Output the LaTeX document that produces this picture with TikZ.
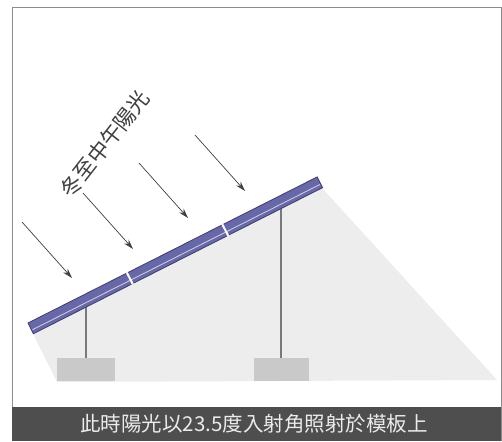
\documentclass[tikz,border=0pt]{standalone}
\usepackage{fontspec}
\newfontfamily\cjk{Noto Sans CJK TC}
\usetikzlibrary{arrows.meta}
\definecolor{framegray}{HTML}{8C8C8C}
\definecolor{bargray}{HTML}{4E4E4E}
\definecolor{shadowgray}{HTML}{EDEDED}
\definecolor{footing}{HTML}{C9C9C9}
\definecolor{postgray}{HTML}{7A7A7A}
\definecolor{cell}{HTML}{6868A8}
\definecolor{celledge}{HTML}{3C3C70}
\begin{document}
\begin{tikzpicture}[>={Stealth[length=10pt,width=6pt]},x=1pt,y=1pt]
  \useasboundingbox (0,0) rectangle (502,441);
  % frame and caption bar
  \draw[framegray,fill=white,line width=1pt] (12,0) -- (12,433) -- (501,433) -- (501,0);
  \fill[bargray] (12,0) rectangle (501,34);
  % shadow under the panel
  \fill[shadowgray] (33,107) -- (322,253) -- (497,61) -- (57,59) -- cycle;
  % footings and posts
  \fill[footing] (57,60) rectangle (115,83);
  \fill[footing] (254,60) rectangle (309,83);
  \draw[postgray,line width=1.6pt] (86,134) -- (86,83);
  \draw[postgray,line width=1.6pt] (281,232) -- (281,83);
  % panel
  \begin{scope}[shift={(28,118)},rotate=26.8]
    \fill[cell,draw=celledge,line width=0.8pt] (0,0) rectangle (324,-12);
    \draw[white,opacity=0.7,line width=0.8pt] (1,-8) -- (323,-8);
    \draw[white,line width=2pt] (111,0.5) -- (111,-12.5);
    \draw[white,line width=2pt] (218,0.5) -- (218,-12.5);
  \end{scope}
  % rays
  \draw[->,black!75,line width=0.7pt] (22,219) -- (72,163);
  \draw[->,black!75,line width=0.7pt] (83,248) -- (133,192);
  \draw[->,black!75,line width=0.7pt] (139,278) -- (188,223);
  \draw[->,black!75,line width=0.7pt] (195,306) -- (245,250);
  % labels
  \node[rotate=52,text=black!75,font=\cjk\fontsize{21.5}{21.5}\selectfont] (sun) at (105,297) {冬至中午陽光};
  \node[text=black!8,font=\cjk\fontsize{20.5}{20.5}\selectfont] (caption) at (254,17) {此時陽光以23.5度入射角照射於模板上};
\end{tikzpicture}
\end{document}
